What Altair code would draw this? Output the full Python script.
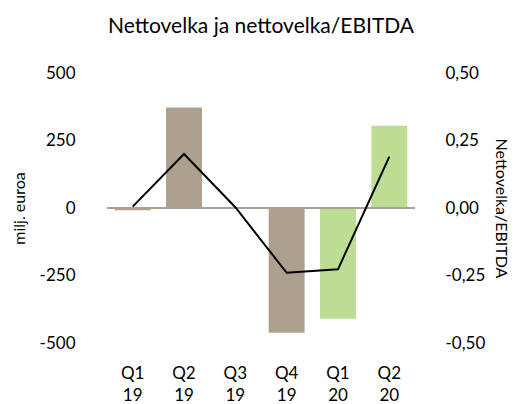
import altair as alt
import pandas as pd

quarters = ["Q1\n19", "Q2\n19", "Q3\n19", "Q4\n19", "Q1\n20", "Q2\n20"]
net_debt = [-8, 372, 3, -462, -410, 305]
ratio = [0.005, 0.20, 0.003, -0.24, -0.227, 0.19]
bar_colors = ["#AEA08F", "#AEA08F", "#AEA08F", "#AEA08F", "#BDDD95", "#BDDD95"]
left_ticks = [-500, -250, 0, 250, 500]
right_ticks = [-0.5, -0.25, 0, 0.25, 0.5]

df = pd.DataFrame({"q": quarters, "nd": net_debt, "r": ratio, "c": bar_colors})

FONT = "Lato"
xenc = alt.X("q:N", sort=quarters,
             scale=alt.Scale(paddingInner=0.3, paddingOuter=0.15),
             axis=alt.Axis(title=None, labelAngle=0, labelExpr="split(datum.label, '\\n')",
                           labelLineHeight=22, labelPadding=30, labelFontSize=17,
                           labelBaseline="middle",
                           ticks=False, domain=False, labelColor="#000", labelFont=FONT))

bars = alt.Chart(df).mark_bar().encode(
    x=xenc,
    y=alt.Y("nd:Q", scale=alt.Scale(domain=[-500, 500], nice=False),
            axis=alt.Axis(title="milj. euroa", values=left_ticks, grid=False, ticks=False,
                          domain=False, labelPadding=32, labelFontSize=17,
                          labelExpr="replace(format(datum.value, 'd'), '\u2212', '-')",
                          titleFontSize=16, titleFontWeight="normal", titlePadding=12,
                          labelColor="#000", titleColor="#000", labelFont=FONT, titleFont=FONT)),
    color=alt.Color("c:N", scale=None),
)

zero = alt.Chart(df).mark_rule(color="#AEA08F", strokeWidth=2).encode(
    y=alt.datum(0, scale=alt.Scale(domain=[-500, 500], nice=False)),
)

line = alt.Chart(df).mark_line(color="#000000", strokeWidth=2).encode(
    x=alt.X("q:N", sort=quarters),
    y=alt.Y("r:Q", scale=alt.Scale(domain=[-0.5, 0.5], nice=False),
            axis=alt.Axis(orient="right", title="Nettovelka/EBITDA", values=right_ticks,
                          grid=False, ticks=False, domain=False, labelPadding=30, labelFontSize=17,
                          labelExpr="replace(replace(format(datum.value, '.2f'), '.', ','), '\u2212', '-')",
                          titleFontSize=16, titleFontWeight="normal", titlePadding=8,
                          labelColor="#000", titleColor="#000", labelFont=FONT, titleFont=FONT)),
)

chart = alt.layer(bars + zero, line).resolve_scale(y="independent").properties(
    width=308, height=270,
    title=alt.TitleParams("Nettovelka ja nettovelka/EBITDA", fontSize=21, fontWeight="normal",
                          font=FONT, color="#000", anchor="middle", offset=27),
    autosize=alt.AutoSizeParams(type="none"),
    padding={"left": 99, "top": 65, "right": 97, "bottom": 70},
).configure_view(stroke=None)

chart.save("out.html", embed_options={"renderer": "svg", "actions": False})
